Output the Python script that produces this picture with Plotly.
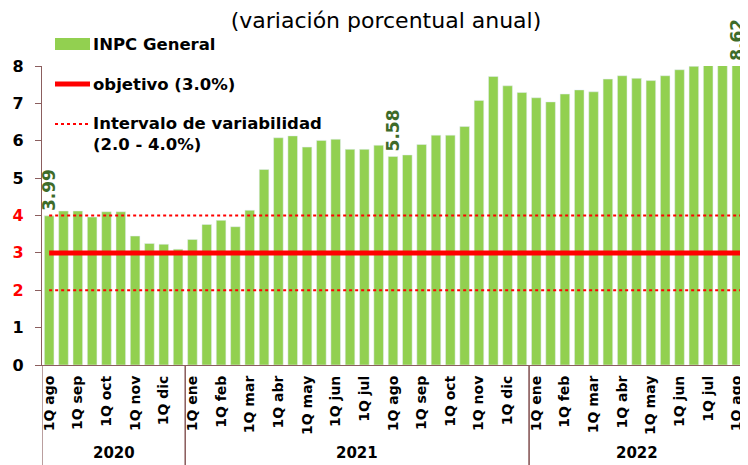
import plotly.graph_objects as go

months_2020 = ["ago", "sep", "oct", "nov", "dic"]
months_full = ["ene", "feb", "mar", "abr", "may", "jun", "jul", "ago", "sep", "oct", "nov", "dic"]
months_2022 = ["ene", "feb", "mar", "abr", "may", "jun", "jul", "ago"]

inpc = [3.99, 4.12, 4.12, 3.96, 4.10, 4.10, 3.45, 3.25, 3.23, 3.10,
        3.36, 3.76, 3.87, 3.70, 4.14, 5.23, 6.08, 6.13, 5.83, 6.01,
        6.04, 5.77, 5.77, 5.88, 5.58, 5.62, 5.90, 6.15, 6.15, 6.38,
        7.08, 7.72, 7.47, 7.29, 7.15, 7.04, 7.25, 7.36, 7.31, 7.65,
        7.74, 7.67, 7.61, 7.74, 7.90, 7.99, 8.16, 8.15, 8.62]
objetivo = 3.0
intervalo = [2.0, 4.0]
labelled = {0: "3.99", 24: "5.58", 48: "8.62"}
years = ["2020", "2021", "2022"]
year_counts = [10, 24, 15]
legend_names = ["INPC General", "objetivo (3.0%)", "Intervalo de variabilidad<br>(2.0 - 4.0%)"]

quincenas = []
for m in months_2020:
    quincenas += ["1Q " + m, ""]
for m in months_full:
    quincenas += ["1Q " + m, ""]
for m in months_2022:
    quincenas += ["1Q " + m, ""]
quincenas = quincenas[:len(inpc)]

x = list(range(len(inpc)))
GREEN = "#92D050"
DARKG = "#3E6B2A"
RED = "#FF0000"
AXC = "#8B5E5E"
FONT = "DejaVu Sans"
YMAX = 8
OFF = 8  # page body margin
W, H = 748 - OFF, 465 - OFF
ML, MR, MT, MB = 42 - OFF, 4, 66 - OFF, 100
PW, PH = W - ML - MR, H - MT - MB


def px(xp):
    return (xp - OFF - ML) / PW


def py(yp):
    return (H - MB - (yp - OFF)) / PH


fig = go.Figure()
fig.add_trace(go.Bar(x=x, y=inpc, marker_color=GREEN, name="INPC General",
                     hoverinfo="y", showlegend=False))
xl = [x[0], x[-1] + 0.5]
fig.add_trace(go.Scatter(x=xl, y=[objetivo] * 2, mode="lines",
                         line=dict(color=RED, width=5), showlegend=False))
for v in intervalo:
    fig.add_trace(go.Scatter(x=xl, y=[v] * 2, mode="lines",
                             line=dict(color=RED, width=2, dash="dot"),
                             showlegend=False))

for i, t in labelled.items():
    fig.add_annotation(x=i, y=min(inpc[i], YMAX), text="<b>" + t + "</b>",
                       textangle=-90, showarrow=False, yanchor="bottom",
                       xanchor="center", yshift=3,
                       font=dict(family=FONT, size=17, color=DARKG))

# manual legend
fig.add_shape(type="rect", xref="paper", yref="paper", x0=px(55), x1=px(90),
              y0=py(50), y1=py(38), fillcolor=GREEN, line=dict(width=0))
fig.add_shape(type="line", xref="paper", yref="paper", x0=px(55), x1=px(90),
              y0=py(84), y1=py(84), line=dict(color=RED, width=5))
fig.add_shape(type="line", xref="paper", yref="paper", x0=px(55), x1=px(89),
              y0=py(124), y1=py(124), line=dict(color=RED, width=2, dash="dot"))
for name, ypix in zip(legend_names, [44, 84, 123]):
    fig.add_annotation(xref="paper", yref="paper", x=px(91), y=py(ypix - 11),
                       xanchor="left", yanchor="top", align="left",
                       text="<b>" + name + "</b>", showarrow=False,
                       font=dict(family=FONT, size=16.5, color="black"))

# year separators and labels
start = -0.5
for yr, n in zip(years, year_counts):
    end = start + n
    fig.add_annotation(x=(start + end) / 2, y=py(464), yref="paper",
                       yanchor="bottom", text="<b>" + yr + "</b>", showarrow=False,
                       font=dict(family=FONT, size=15, color="black"))
    for xx in (start, end):
        fig.add_shape(type="line", x0=xx, x1=xx, y0=0, y1=py(470), yref="paper",
                      line=dict(color=AXC, width=1.2))
    start = end

ytick_txt = []
for v in range(0, YMAX + 1):
    if v in (2, 3, 4):
        ytick_txt.append("<span style='color:#FF0000'><b>%d</b></span>" % v)
    else:
        ytick_txt.append("<b>%d</b>" % v)

fig.update_layout(
    width=W, height=H,
    margin=dict(l=ML, r=MR, t=MT, b=MB, autoexpand=False),
    plot_bgcolor="white", paper_bgcolor="white",
    bargap=0.33,
    font=dict(family=FONT, color="black"),
    title=dict(text="(variación porcentual anual)", x=(386 - OFF) / W, xanchor="center",
               y=1 - (20 - OFF) / H, yanchor="middle",
               font=dict(family=FONT, size=22, color="black")),
    showlegend=False,
    xaxis=dict(range=[-0.5, len(inpc) - 0.5], tickmode="array", tickvals=x,
               ticktext=["<b>%s</b>" % q if q else "" for q in quincenas],
               tickangle=-90, showgrid=False, ticks="",
               showline=True, linecolor=AXC, linewidth=1.2, ticklabelstandoff=4,
               tickfont=dict(family=FONT, size=14, color="black")),
    yaxis=dict(range=[0, YMAX], tickmode="array", tickvals=list(range(YMAX + 1)),
               ticktext=ytick_txt, showgrid=False, zeroline=False,
               showline=True, linecolor=AXC, linewidth=1.2,
               ticks="outside", tickcolor=AXC, ticklen=6, ticklabelstandoff=8,
               tickfont=dict(family=FONT, size=16, color="black")),
)

fig.write_html("out.html")
